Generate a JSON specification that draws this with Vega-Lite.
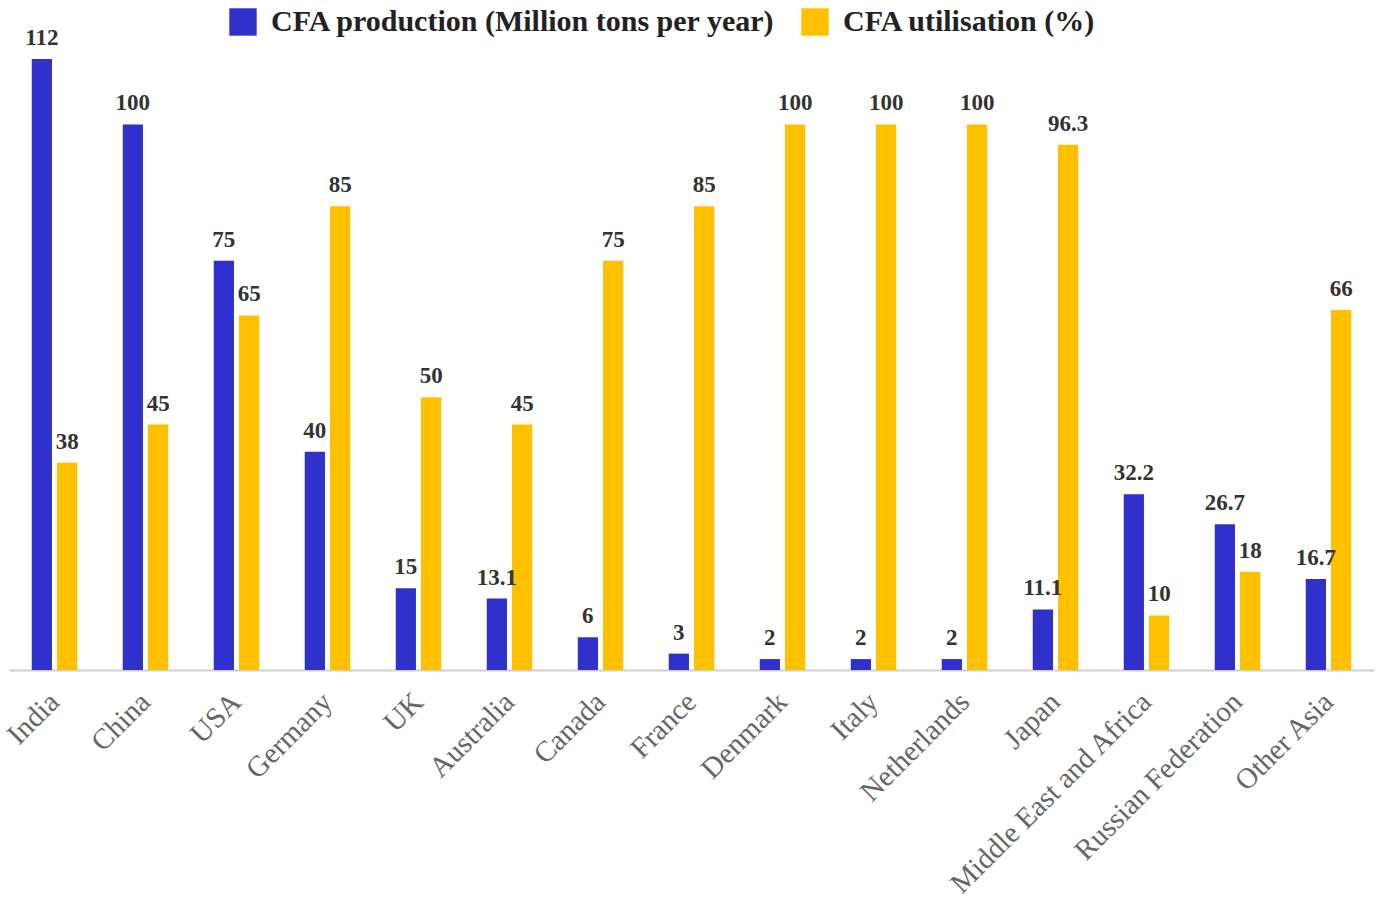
{
  "$schema": "https://vega.github.io/schema/vega-lite/v6.json",
  "autosize": "none",
  "width": 1365,
  "height": 611,
  "padding": {"left": 9, "top": 59, "right": 2, "bottom": 239},
  "background": "white",
  "config": {"view": {"stroke": null}, "font": "Liberation Serif"},
  "data": {"values": [
    {"country": "India", "series": "CFA production (Million tons per year)", "value": 112},
    {"country": "India", "series": "CFA utilisation (%)", "value": 38},
    {"country": "China", "series": "CFA production (Million tons per year)", "value": 100},
    {"country": "China", "series": "CFA utilisation (%)", "value": 45},
    {"country": "USA", "series": "CFA production (Million tons per year)", "value": 75},
    {"country": "USA", "series": "CFA utilisation (%)", "value": 65},
    {"country": "Germany", "series": "CFA production (Million tons per year)", "value": 40},
    {"country": "Germany", "series": "CFA utilisation (%)", "value": 85},
    {"country": "UK", "series": "CFA production (Million tons per year)", "value": 15},
    {"country": "UK", "series": "CFA utilisation (%)", "value": 50},
    {"country": "Australia", "series": "CFA production (Million tons per year)", "value": 13.1},
    {"country": "Australia", "series": "CFA utilisation (%)", "value": 45},
    {"country": "Canada", "series": "CFA production (Million tons per year)", "value": 6},
    {"country": "Canada", "series": "CFA utilisation (%)", "value": 75},
    {"country": "France", "series": "CFA production (Million tons per year)", "value": 3},
    {"country": "France", "series": "CFA utilisation (%)", "value": 85},
    {"country": "Denmark", "series": "CFA production (Million tons per year)", "value": 2},
    {"country": "Denmark", "series": "CFA utilisation (%)", "value": 100},
    {"country": "Italy", "series": "CFA production (Million tons per year)", "value": 2},
    {"country": "Italy", "series": "CFA utilisation (%)", "value": 100},
    {"country": "Netherlands", "series": "CFA production (Million tons per year)", "value": 2},
    {"country": "Netherlands", "series": "CFA utilisation (%)", "value": 100},
    {"country": "Japan", "series": "CFA production (Million tons per year)", "value": 11.1},
    {"country": "Japan", "series": "CFA utilisation (%)", "value": 96.3},
    {"country": "Middle East and Africa", "series": "CFA production (Million tons per year)", "value": 32.2},
    {"country": "Middle East and Africa", "series": "CFA utilisation (%)", "value": 10},
    {"country": "Russian Federation", "series": "CFA production (Million tons per year)", "value": 26.7},
    {"country": "Russian Federation", "series": "CFA utilisation (%)", "value": 18},
    {"country": "Other Asia", "series": "CFA production (Million tons per year)", "value": 16.7},
    {"country": "Other Asia", "series": "CFA utilisation (%)", "value": 66}
  ]},
  "encoding": {
    "x": {
      "field": "country", "type": "nominal", "sort": null,
      "scale": {"paddingInner": 0.5, "paddingOuter": 0.25},
      "axis": {
        "title": null, "labelAngle": -45, "labelAlign": "right", "labelBaseline": "middle",
        "labelFont": "Liberation Serif", "labelFontSize": 29, "labelColor": "#666",
        "labelPadding": 27, "ticks": false, "domainColor": "#d0d0d0", "domainWidth": 2,
        "labelOverlap": false, "labelLimit": 400
      }
    },
    "xOffset": {
      "field": "series", "type": "nominal",
      "scale": {"domain": ["CFA production (Million tons per year)", "CFA utilisation (%)"], "paddingInner": 0.2}
    },
    "y": {
      "field": "value", "type": "quantitative",
      "scale": {"domain": [0, 112], "nice": false},
      "axis": null
    }
  },
  "layer": [
    {
      "mark": {"type": "bar"},
      "encoding": {
        "color": {
          "field": "series", "type": "nominal",
          "scale": {"domain": ["CFA production (Million tons per year)", "CFA utilisation (%)"], "range": ["#3030cc", "#ffc000"]},
          "legend": {
            "title": null, "orient": "none", "direction": "horizontal",
            "legendX": 219, "legendY": -52,
            "symbolType": "square", "symbolSize": 750, "symbolStrokeWidth": 0,
            "labelFont": "Liberation Serif", "labelFontSize": 30, "labelFontWeight": "bold",
            "labelColor": "#222", "columnPadding": 24, "labelOffset": 13, "labelLimit": 700
          }
        }
      }
    },
    {
      "mark": {"type": "text", "baseline": "bottom", "dy": -9, "font": "Liberation Serif", "fontSize": 23, "fontWeight": "bold", "color": "#333"},
      "encoding": {
        "text": {"field": "value", "type": "nominal"}
      }
    }
  ]
}
